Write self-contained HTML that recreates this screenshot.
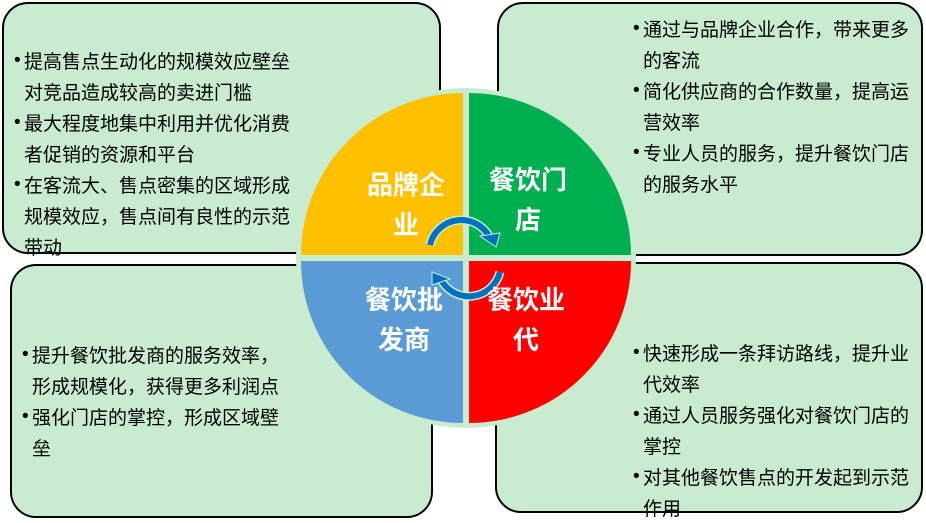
<!DOCTYPE html>
<html><head><meta charset="utf-8"><style>
body{margin:0;width:926px;height:521px;background:#fff;position:relative;overflow:hidden;font-family:"Liberation Sans","Noto Sans CJK SC",sans-serif}
.box{position:absolute;background:#c9ecd0;border:2px solid #000;border-radius:26px;box-sizing:border-box}
.t{position:absolute;font-size:19px;line-height:31px;color:#000;white-space:nowrap;font-family:"Noto Sans CJK SC",sans-serif}
.t div{padding-left:10px;position:relative}
.t div b{position:absolute;left:0;top:0;font-weight:normal;font-family:"Liberation Sans",sans-serif}
.lab{position:absolute;color:#fff;font-weight:bold;font-size:26px;line-height:40px;text-align:center;width:100px}
</style></head><body>
<div class="box" style="left:2px;top:2px;width:439px;height:252px"></div>
<div class="box" style="left:497px;top:2px;width:426px;height:254px"></div>
<div class="box" style="left:10px;top:264px;width:423px;height:254px"></div>
<div class="box" style="left:495px;top:262px;width:428px;height:251px"></div>
<svg style="position:absolute;left:0;top:0" width="926" height="521">
<circle cx="466" cy="258" r="170" fill="#c9ecd0"/>
<path d="M463,255 L463,93 A162,162 0 0 0 301,255 Z" fill="#ffc000"/>
<path d="M469,255 L469,93 A162,162 0 0 1 631,255 Z" fill="#00b050"/>
<path d="M463,261 L463,423 A162,162 0 0 1 301,261 Z" fill="#5b9bd5"/>
<path d="M469,261 L469,423 A162,162 0 0 0 631,261 Z" fill="#ff0000"/>
<path d="M430,245 A32,32 0 0 1 490,238" fill="none" stroke="#c9ecd0" stroke-width="9"/>
<path d="M430,245 A32,32 0 0 1 490,238" fill="none" stroke="#0070c0" stroke-width="6"/>
<polygon points="480,236 500,233 496,247" fill="#0070c0" stroke="#c9ecd0"/>
<path d="M500,272 A32,32 0 0 1 440,278" fill="none" stroke="#c9ecd0" stroke-width="9"/>
<path d="M500,272 A32,32 0 0 1 440,278" fill="none" stroke="#0070c0" stroke-width="6"/>
<polygon points="432,272 432,285 450,279" fill="#0070c0" stroke="#c9ecd0"/>
</svg>
<div class="lab" style="left:356px;top:165px">品牌企<br>业</div>
<div class="lab" style="left:478px;top:160px">餐饮门<br>店</div>
<div class="lab" style="left:354px;top:280px">餐饮批<br>发商</div>
<div class="lab" style="left:476px;top:280px">餐饮业<br>代</div>
<div class="t" style="left:14px;top:45px">
<div><b>•</b>提高售点生动化的规模效应壁垒<br>对竞品造成较高的卖进门槛</div>
<div><b>•</b>最大程度地集中利用并优化消费<br>者促销的资源和平台</div>
<div><b>•</b>在客流大、售点密集的区域形成<br>规模效应，售点间有良性的示范<br>带动</div></div>
<div class="t" style="left:633px;top:13px">
<div><b>•</b>通过与品牌企业合作，带来更多<br>的客流</div>
<div><b>•</b>简化供应商的合作数量，提高运<br>营效率</div>
<div><b>•</b>专业人员的服务，提升餐饮门店<br>的服务水平</div></div>
<div class="t" style="left:22px;top:339px">
<div><b>•</b>提升餐饮批发商的服务效率，<br>形成规模化，获得更多利润点</div>
<div><b>•</b>强化门店的掌控，形成区域壁<br>垒</div></div>
<div class="t" style="left:633px;top:337px">
<div><b>•</b>快速形成一条拜访路线，提升业<br>代效率</div>
<div><b>•</b>通过人员服务强化对餐饮门店的<br>掌控</div>
<div><b>•</b>对其他餐饮售点的开发起到示范<br>作用</div></div>
</body></html>
